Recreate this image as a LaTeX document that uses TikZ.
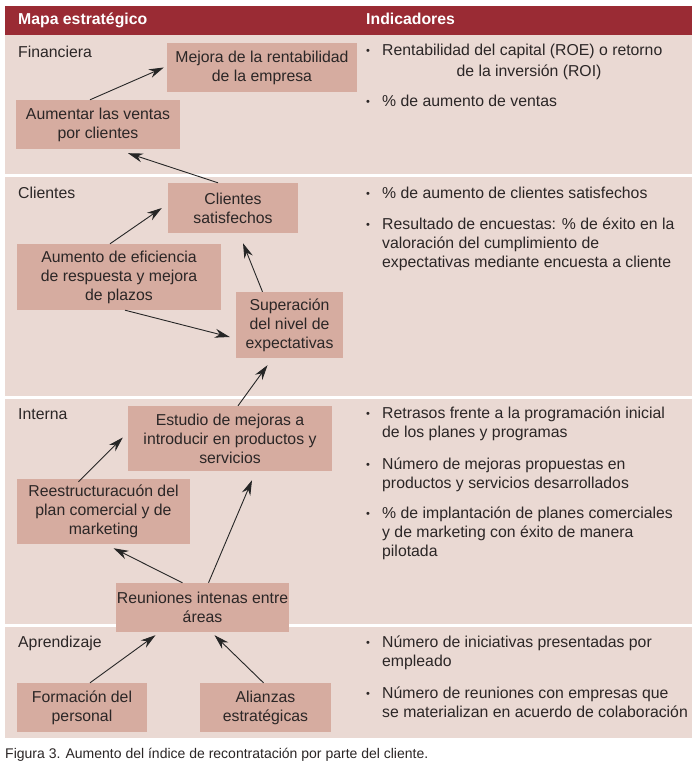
\documentclass[tikz,border=0pt]{standalone}
\usepackage{fontspec}
\setmainfont{Liberation Sans}
\usetikzlibrary{arrows.meta,positioning}

\definecolor{mapred}{HTML}{9A2B34}
\definecolor{mapbg}{HTML}{EAD9D3}
\definecolor{mapbox}{HTML}{D6ACA0}
\definecolor{maptext}{HTML}{2B2626}

\newcommand{\diagfont}{\fontsize{15.8}{19}\selectfont}
\newcommand{\bul}{\makebox[16pt][l]{\raisebox{1pt}{\fontsize{11}{11}\selectfont •}}}

\tikzset{
  objbox/.style={fill=mapbox, inner sep=0pt, align=center, font=\diagfont, text=maptext},
  flow/.style={-{Stealth[length=15pt,width=9pt]}, line width=0.9pt, draw=black!85},
  seclabel/.style={anchor=base west, inner sep=0pt, font=\diagfont, text=maptext},
  indline/.style={anchor=base west, inner sep=0pt, font=\diagfont, text=maptext},
  headtext/.style={anchor=base west, inner sep=0pt, font=\diagfont\bfseries, text=white}
}

\begin{document}
\begin{tikzpicture}[x=1pt, y=-1pt]
  \useasboundingbox[fill=white] (0,0) rectangle (699,768);

  % Header and section bands
  \fill[mapred] (5,6) rectangle (692,35);
  \fill[mapbg] (5,35) rectangle (692,174);
  \fill[mapbg] (5,177) rectangle (692,396);
  \fill[mapbg] (5,399) rectangle (692,624);
  \fill[mapbg] (5,627) rectangle (692,738);
  \node[headtext] (hmapa) at (18,25) {Mapa estratégico};
  \node[headtext] (hind) at (366,25) {Indicadores};

  % Section labels
  \node[seclabel] (lfin) at (18,58) {Financiera};
  \node[seclabel] (lcli) at (18,198) {Clientes};
  \node[seclabel] (lint) at (18,419) {Interna};
  \node[seclabel] (lapr) at (18,647) {Aprendizaje};

  % --- Strategy map boxes ---
  \node[objbox, minimum width=190pt, minimum height=49pt] (mejora) at (262,67.5)
      {Mejora de la rentabilidad\\de la empresa};
  \node[objbox, minimum width=164pt, minimum height=49pt] (ventas) at (98,124.5)
      {Aumentar las ventas\\por clientes};
  \node[objbox, minimum width=130pt, minimum height=50pt] (satis) at (233,208)
      {Clientes\\satisfechos};
  \node[objbox, minimum width=204pt, minimum height=66pt] (eficien) at (119,277)
      {Aumento de eficiencia\\de respuesta y mejora\\de plazos};
  \node[objbox, minimum width=107pt, minimum height=66pt] (superac) at (289.5,325)
      {Superación\\del nivel de\\expectativas};
  \node[objbox, minimum width=204pt, minimum height=65pt] (estudio) at (230,438.5)
      {Estudio de mejoras a\\introducir en productos y\\servicios};
  \node[objbox, minimum width=173pt, minimum height=65pt] (reestr) at (103.5,511.5)
      {Reestructuracuón del\\plan comercial y de\\marketing};
  \node[objbox, minimum width=173pt, minimum height=49pt] (reunion) at (202.5,607.5)
      {Reuniones intenas entre\\áreas};
  \node[objbox, minimum width=130pt, minimum height=49pt] (formac) at (82,707.5)
      {Formación del\\personal};
  \node[objbox, minimum width=131pt, minimum height=49pt] (alianza) at (265.5,707.5)
      {Alianzas\\estratégicas};

  % --- Cause-effect arrows ---
  \draw[flow] ([xshift=-8pt]ventas.north) -- ([xshift=-3pt]mejora.west);
  \draw[flow] ([xshift=-15pt]satis.north) -- ([xshift=30pt,yshift=-4pt]ventas.south);
  \draw[flow] ([xshift=-9pt]eficien.north) -- ([xshift=-6pt]satis.west);
  \draw[flow] ([xshift=6pt]eficien.south) -- ([xshift=-6pt,yshift=-12pt]superac.west);
  \draw[flow] ([xshift=-27pt]superac.north) -- ([xshift=10pt,yshift=-10pt]satis.south);
  \draw[flow] ([xshift=8pt]estudio.north) -- ([xshift=-22pt,yshift=-7pt]superac.south);
  \draw[flow] ([xshift=-25pt,yshift=-3pt]reestr.north) -- ([xshift=-5pt,yshift=1pt]estudio.west);
  \draw[flow] ([xshift=-20pt]reunion.north) -- ([xshift=10pt,yshift=-4pt]reestr.south);
  \draw[flow] ([xshift=6pt]reunion.north) -- ([xshift=22pt,yshift=-9pt]estudio.south);
  \draw[flow] ([xshift=8pt]formac.north) -- ([xshift=-47pt,yshift=-3pt]reunion.south);
  \draw[flow] ([xshift=-2pt]alianza.north) -- ([xshift=12pt,yshift=-3pt]reunion.south);

  % --- Indicators ---
  \node[indline] (f1a) at (366,56) {\bul Rentabilidad del capital (ROE) o retorno};
  \node[indline, anchor=base] (f1b) at (529,77) {de la inversión (ROI)};
  \node[indline] (f2a) at (366,106) {\bul \% de aumento de ventas};

  \node[indline] (c1a) at (366,198) {\bul \% de aumento de clientes satisfechos};
  \node[indline] (c2a) at (366,229) {\bul Resultado de encuestas: \% de éxito en la};
  \node[indline] (c2b) at (382,248) {valoración del cumplimiento de};
  \node[indline] (c2c) at (382,267) {expectativas mediante encuesta a cliente};

  \node[indline] (i1a) at (366,418) {\bul Retrasos frente a la programación inicial};
  \node[indline] (i1b) at (382,437) {de los planes y programas};
  \node[indline] (i2a) at (366,469) {\bul Número de mejoras propuestas en};
  \node[indline] (i2b) at (382,488) {productos y servicios desarrollados};
  \node[indline] (i3a) at (366,518) {\bul \% de implantación de planes comerciales};
  \node[indline] (i3b) at (382,537) {y de marketing con éxito de manera};
  \node[indline] (i3c) at (382,556) {pilotada};

  \node[indline] (a1a) at (366,647) {\bul Número de iniciativas presentadas por};
  \node[indline] (a1b) at (382,666) {empleado};
  \node[indline] (a2a) at (366,698) {\bul Número de reuniones con empresas que};
  \node[indline] (a2b) at (382,717) {se materializan en acuerdo de colaboración};

  % Caption
  \node[anchor=base west, inner sep=0pt, font=\fontsize{14}{17}\selectfont, text=maptext] (cap) at (5,758)
      {Figura 3. Aumento del índice de recontratación por parte del cliente.};
\end{tikzpicture}
\end{document}
